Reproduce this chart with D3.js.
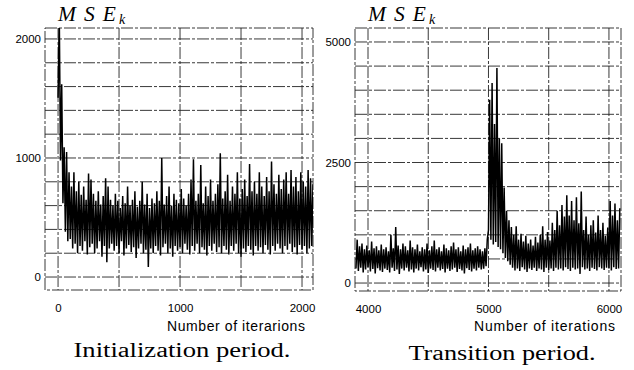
<!DOCTYPE html>
<html>
<head>
<meta charset="utf-8">
<script src="https://cdn.jsdelivr.net/npm/d3@7"></script>
<style>
  body { margin: 0; background: #fff; }
  svg { display: block; }
</style>
</head>
<body>
<script>
// values, 20-iteration bins: lowest and highest value in each bin
var binSize = 20;

var initStart = 0;
var initHi = [2200, 1620, 1090, 1050, 880, 760, 880, 720, 800, 690,
  760, 650, 870, 820, 700, 640, 720, 610, 680, 830,
  760, 650, 600, 700, 640, 580, 680, 620, 760, 600,
  650, 720, 590, 640, 800, 610, 700, 580, 660, 620,
  720, 640, 1000, 610, 680, 760, 600, 700, 650, 620,
  740, 660, 600, 700, 820, 990, 640, 700, 940, 620,
  760, 680, 820, 640, 700, 780, 1040, 660, 720, 860,
  640, 760, 700, 880, 660, 740, 820, 680, 950, 720,
  800, 700, 880, 760, 680, 840, 720, 970, 780, 700,
  860, 740, 820, 880, 700, 900, 760, 840, 720, 880,
  800, 760, 900, 830, 780];
var initLo = [1500, 980, 620, 380, 300, 320, 240, 280, 200, 260,
  220, 300, 190, 250, 280, 200, 240, 300, 170, 260,
  125, 240, 280, 220, 260, 200, 300, 180, 240, 270,
  210, 250, 160, 240, 280, 200, 230, 85, 240, 200,
  260, 220, 180, 250, 280, 200, 240, 170, 260, 220,
  250, 200, 280, 230, 190, 260, 220, 280, 200, 250,
  230, 180, 260, 220, 280, 210, 250, 200, 260, 230,
  190, 260, 220, 280, 200, 170, 240, 210, 260, 230,
  180, 260, 220, 250, 200, 270, 230, 190, 260, 220,
  280, 240, 200, 260, 230, 280, 210, 250, 190, 270,
  230, 260, 200, 240, 260];

var transStart = 3900;
var transHi = [900, 760, 820, 700, 780, 680, 860, 720, 760, 680,
  800, 700, 740, 660, 1000, 720, 1160, 780, 700, 820,
  760, 680, 880, 740, 700, 800, 660, 740, 700, 820,
  680, 760, 880, 700, 740, 660, 800, 720, 680, 760,
  840, 700, 740, 660, 780, 700, 740, 820, 680, 720,
  760, 700, 660, 720, 900, 3800, 4150, 3300, 4460, 3000,
  2900, 1980, 1500, 1300, 1160, 1000, 1180, 900, 1020, 860,
  980, 820, 900, 780, 960, 840, 1000, 1180, 900, 1060,
  880, 1250, 1100, 1500, 1200, 1620, 1380, 1820, 1400, 1700,
  1300, 1780, 1240, 1900, 1100, 1380, 1000, 1200, 1300, 1050,
  1400, 1100, 1250, 980, 1150, 1700, 1400, 1650, 1300, 1550];
var transLo = [300, 250, 320, 220, 280, 330, 240, 290, 200, 310,
  260, 230, 300, 270, 220, 320, 250, 280, 190, 300,
  260, 320, 240, 280, 220, 300, 260, 330, 240, 280,
  210, 300, 270, 240, 320, 260, 290, 220, 300, 250,
  280, 320, 230, 290, 260, 200, 310, 270, 240, 300,
  260, 320, 280, 300, 350, 1100, 900, 800, 850, 750,
  700, 620, 520, 450, 380, 320, 260, 300, 250, 330,
  280, 230, 300, 270, 320, 250, 300, 280, 230, 320,
  270, 300, 250, 320, 280, 300, 260, 330, 290, 250,
  320, 280, 300, 190, 330, 280, 300, 250, 320, 290,
  260, 330, 300, 270, 320, 300, 260, 330, 290, 300];

var initXTicks = [0, 1000, 2000];
var initYTicks = [0, 1000, 2000];
var transXTicks = [4000, 5000, 6000];
var transYTicks = [0, 2500, 5000];

var W = 634, H = 370;
var sans = "'Liberation Sans', Arial, sans-serif";
var serif = "'Liberation Serif', 'Times New Roman', serif";

var svg = d3.select("body").append("svg")
  .attr("width", W)
  .attr("height", H);

function zigzag(start, lo, hi) {
  var pts = [];
  for (var i = 0; i < lo.length; i++) {
    pts.push([start + i * binSize, lo[i]]);
    pts.push([start + i * binSize + binSize / 2, hi[i]]);
  }
  return pts;
}

function drawPanel(p) {
  var x = d3.scaleLinear().domain(p.xDomain).range([p.left, p.right]);
  var y = d3.scaleLinear().domain(p.yDomain).range([p.bottom, p.top]);
  var g = svg.append("g");

  g.append("clipPath").attr("id", p.id)
    .append("rect")
    .attr("x", p.left).attr("y", p.top)
    .attr("width", p.right - p.left).attr("height", p.bottom - p.top);

  var dash = "12,2,3,2";

  g.selectAll(".hgrid").data(d3.range(0, p.yMax + 1, p.yStep))
    .enter().append("line")
      .attr("x1", p.left).attr("x2", p.right)
      .attr("y1", function(d) { return y(d); })
      .attr("y2", function(d) { return y(d); })
      .attr("stroke", "#222").attr("stroke-width", 0.9)
      .attr("stroke-dasharray", dash);

  g.selectAll(".vgrid").data(d3.range(p.xMin, p.xMax + 1, p.xStep))
    .enter().append("line")
      .attr("y1", p.top).attr("y2", p.bottom)
      .attr("x1", function(d) { return x(d); })
      .attr("x2", function(d) { return x(d); })
      .attr("stroke", "#222").attr("stroke-width", 0.9)
      .attr("stroke-dasharray", dash);

  g.append("rect")
    .attr("x", p.left).attr("y", p.top)
    .attr("width", p.right - p.left).attr("height", p.bottom - p.top)
    .attr("fill", "none").attr("stroke", "#222").attr("stroke-width", 0.9)
    .attr("stroke-dasharray", dash);

  var line = d3.line()
    .x(function(d) { return x(d[0]); })
    .y(function(d) { return y(d[1]); });

  g.append("path")
    .datum(zigzag(p.start, p.lo, p.hi))
    .attr("clip-path", "url(#" + p.id + ")")
    .attr("d", line)
    .attr("fill", "none")
    .attr("stroke", "#000")
    .attr("stroke-width", 1.5)
    .attr("stroke-linejoin", "bevel");

  var ya = g.append("g")
    .attr("transform", "translate(" + p.left + ",0)")
    .call(d3.axisLeft(y).tickValues(p.yTicks).tickSize(0).tickPadding(4).tickFormat(d3.format("d")));
  var xa = g.append("g")
    .attr("transform", "translate(0," + p.bottom + ")")
    .call(d3.axisBottom(x).tickValues(p.xTicks).tickSize(0).tickPadding(14).tickFormat(d3.format("d")));
  [ya, xa].forEach(function(a) {
    a.select(".domain").remove();
    a.selectAll("text").attr("font-family", sans).attr("font-size", 11.5).attr("fill", "#000");
  });

  g.append("text")
    .attr("x", p.labelX).attr("y", 331)
    .attr("text-anchor", "end")
    .attr("font-family", sans).attr("font-size", 14)
    .attr("textLength", p.labelLen).attr("lengthAdjust", "spacing")
    .text(p.label);

  // MSE with subscript k, as two separate texts so they do not collide
  g.append("text")
    .attr("x", p.left + 13).attr("y", 21)
    .attr("font-family", serif).attr("font-style", "italic").attr("font-size", 21.5)
    .attr("textLength", 58).attr("lengthAdjust", "spacing")
    .text("MSE");
  g.append("text")
    .attr("x", p.left + 74).attr("y", 24)
    .attr("font-family", serif).attr("font-style", "italic").attr("font-size", 14)
    .text("k");

  g.append("text")
    .attr("x", p.capX).attr("y", p.capY)
    .attr("text-anchor", "middle")
    .attr("font-family", serif).attr("font-size", 20.5)
    .attr("textLength", p.capLen).attr("lengthAdjust", "spacingAndGlyphs")
    .text(p.caption);
}

drawPanel({
  id: "clipInit",
  left: 45, right: 313, top: 28, bottom: 290,
  xDomain: [-107, 2090], yDomain: [-109, 2092],
  xMin: 0, xMax: 2000, xStep: 500, yMax: 2000, yStep: 200,
  xTicks: initXTicks, yTicks: initYTicks,
  start: initStart, lo: initLo, hi: initHi,
  label: "Number of iterarions", labelX: 305, labelLen: 138,
  caption: "Initialization period.", capX: 182, capY: 357, capLen: 217
});

drawPanel({
  id: "clipTrans",
  left: 355, right: 621, top: 28, bottom: 291,
  xDomain: [3892, 6100], yDomain: [-165, 5290],
  xMin: 4000, xMax: 6000, xStep: 500, yMax: 5000, yStep: 500,
  xTicks: transXTicks, yTicks: transYTicks,
  start: transStart, lo: transLo, hi: transHi,
  label: "Number of iterations", labelX: 615, labelLen: 141,
  caption: "Transition period.", capX: 502, capY: 360, capLen: 187
});
</script>
</body>
</html>
